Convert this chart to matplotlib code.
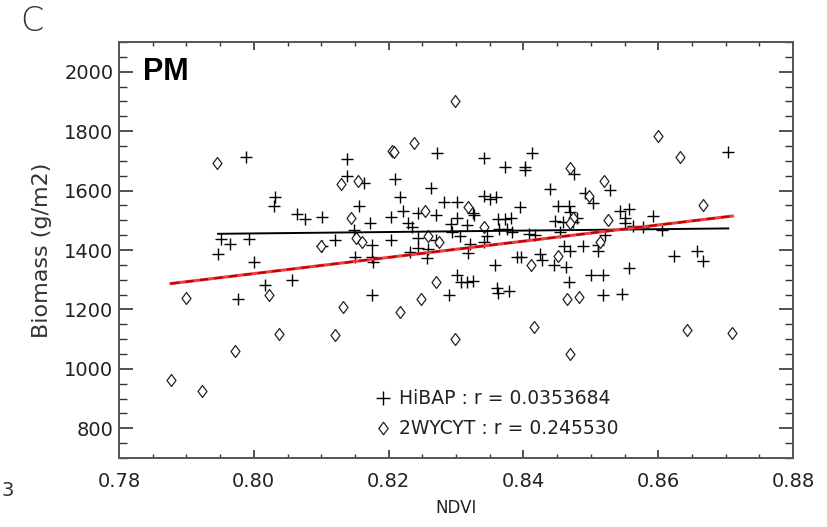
import matplotlib
matplotlib.use("Agg")
import matplotlib.pyplot as plt
from matplotlib.path import Path
from matplotlib.ticker import MultipleLocator
import numpy as np

# HiBAP (+) : NDVI vs biomass
hibap_ndvi = [0.7988, 0.8032, 0.8030, 0.8064, 0.8076, 0.8101, 0.7952, 0.7964, 0.7993, 0.7947,
              0.8000, 0.8120, 0.8138, 0.8139, 0.8164, 0.8156, 0.8173, 0.8148, 0.8203, 0.8210,
              0.8217, 0.8221, 0.8229, 0.8235, 0.8203, 0.8176, 0.8150, 0.8176, 0.8177, 0.8232,
              0.8243, 0.8243, 0.8244, 0.8259, 0.8257, 0.8263, 0.8272, 0.8270, 0.8270, 0.8282,
              0.8302, 0.8302, 0.8292, 0.8294, 0.8306, 0.8316, 0.8325, 0.8321, 0.8318, 0.8342,
              0.8413, 0.8373, 0.8402, 0.8403, 0.8440, 0.8475, 0.8491, 0.8503, 0.8529, 0.8341,
              0.8350, 0.8360, 0.8395, 0.8327, 0.8451, 0.8467, 0.8469, 0.8480, 0.8544, 0.8557,
              0.8362, 0.8373, 0.8382, 0.8364, 0.8376, 0.8383, 0.8447, 0.8458, 0.8474, 0.8550,
              0.8550, 0.8346, 0.8408, 0.8417, 0.8455, 0.8521, 0.8341, 0.8460, 0.8489, 0.8510,
              0.8511, 0.8469, 0.8563, 0.8577, 0.8606, 0.8593, 0.8704, 0.8623, 0.8658, 0.8666,
              0.8358, 0.8390, 0.8396, 0.8425, 0.8428, 0.8446, 0.8463, 0.8468, 0.8500, 0.8518,
              0.8557, 0.8325, 0.8301, 0.8307, 0.8316, 0.8361, 0.8362, 0.8378, 0.8518, 0.8546,
              0.8289, 0.8176, 0.7977, 0.8056, 0.8016, 0.8101]
hibap_biomass = [1712, 1580, 1549, 1521, 1504, 1511, 1437, 1420, 1437, 1385,
                 1358, 1434, 1707, 1650, 1627, 1548, 1490, 1467, 1511, 1639,
                 1580, 1532, 1490, 1478, 1432, 1417, 1376, 1378, 1361, 1393,
                 1524, 1439, 1407, 1403, 1373, 1608, 1725, 1517, 1435, 1563,
                 1563, 1507, 1487, 1462, 1448, 1483, 1523, 1420, 1391, 1711,
                 1726, 1680, 1678, 1668, 1604, 1657, 1591, 1559, 1601, 1583,
                 1573, 1580, 1544, 1518, 1547, 1547, 1528, 1507, 1531, 1539,
                 1504, 1503, 1508, 1471, 1471, 1462, 1496, 1493, 1493, 1508,
                 1491, 1446, 1454, 1452, 1460, 1449, 1428, 1412, 1412, 1417,
                 1396, 1395, 1481, 1477, 1468, 1514, 1730, 1379, 1398, 1362,
                 1350, 1378, 1378, 1385, 1367, 1351, 1342, 1292, 1315, 1315,
                 1339, 1297, 1317, 1294, 1294, 1271, 1256, 1261, 1248, 1251,
                 1250, 1250, 1236, 1299, 1282, 1413]

# 2WYCYT (diamonds)
wycyt_ndvi = [0.7945, 0.8205, 0.8208, 0.8237, 0.8299, 0.8129, 0.8154, 0.8144, 0.8100, 0.8152,
              0.8161, 0.8254, 0.8318, 0.8258, 0.8275, 0.8342, 0.8469, 0.8520, 0.8498, 0.8474,
              0.8525, 0.8469, 0.8513, 0.8451, 0.8411, 0.8599, 0.8632, 0.8666, 0.7900, 0.8022,
              0.8037, 0.7972, 0.7877, 0.7923, 0.8132, 0.8121, 0.8217, 0.8248, 0.8271, 0.8298,
              0.8465, 0.8482, 0.8416, 0.8469, 0.8642, 0.8710]
wycyt_biomass = [1692, 1734, 1729, 1760, 1900, 1622, 1632, 1507, 1413, 1439,
                 1428, 1530, 1546, 1447, 1427, 1477, 1677, 1632, 1582, 1509,
                 1501, 1492, 1427, 1380, 1348, 1785, 1713, 1552, 1238, 1249,
                 1116, 1059, 964, 924, 1207, 1113, 1190, 1235, 1293, 1102,
                 1234, 1243, 1140, 1051, 1132, 1122]

# regression lines (slope, intercept) and r values
hibap_fit = [239.0, 1264.6]
wycyt_fit = [2728.0, -861.8]
hibap_r = "0.0353684"
wycyt_r = "0.245530"

plt.rcParams['font.family'] = ['DejaVu Sans']

diamond = Path([(0, 1), (0.75, 0), (0, -1), (-0.75, 0), (0, 1)],
               [Path.MOVETO, Path.LINETO, Path.LINETO, Path.LINETO, Path.CLOSEPOLY])

fig = plt.figure(figsize=(8.27, 5.27), dpi=100)
ax = fig.add_axes([0.1439, 0.1309, 0.815, 0.7894])

ax.plot(hibap_ndvi, hibap_biomass, linestyle='none', marker='+', markersize=9,
        markeredgewidth=1.0, color='black')
ax.plot(wycyt_ndvi, wycyt_biomass, linestyle='none', marker=diamond, markersize=8.6,
        markeredgewidth=0.9, markerfacecolor='white', markeredgecolor='#222222')

xs = np.array([min(hibap_ndvi), max(hibap_ndvi)])
ax.plot(xs, hibap_fit[0] * xs + hibap_fit[1], color='black', lw=1.4, zorder=3)
xs = np.array([min(wycyt_ndvi), max(wycyt_ndvi)])
ax.plot(xs, wycyt_fit[0] * xs + wycyt_fit[1], color='#e84040', lw=2.2, zorder=3)
ax.plot(xs, wycyt_fit[0] * xs + wycyt_fit[1], color='#c00000', lw=1.5, zorder=3,
        dashes=(4, 3))

ax.set_xlim(0.78, 0.88)
ax.set_ylim(700, 2100)
ax.xaxis.set_minor_locator(MultipleLocator(0.005))
ax.yaxis.set_minor_locator(MultipleLocator(50))
ax.set_xticks([0.78, 0.80, 0.82, 0.84, 0.86, 0.88])
ax.set_xticklabels(['0.78', '0.80', '0.82', '0.84', '0.86', '0.88'])
ax.set_yticks([800, 1000, 1200, 1400, 1600, 1800, 2000])

ax.tick_params(axis='both', which='both', direction='in', top=True, right=True,
               labelsize=14, colors='#333333', labelcolor='#222222')
ax.tick_params(axis='x', which='major', length=6, width=1.2, pad=10)
ax.tick_params(axis='x', which='minor', length=3, width=1.0)
ax.tick_params(axis='y', which='major', length=10, width=1.2, pad=4)
ax.tick_params(axis='y', which='minor', length=5.5, width=1.0)
for s in ax.spines.values():
    s.set_linewidth(1.4)
    s.set_color('#555555')

ax.set_xlabel('NDVI', fontsize=12, color='#222222', labelpad=6)
ax.set_ylabel('Biomass (g/m2)', fontsize=16, color='#333333', labelpad=9)

ax.text(0.035, 0.965, 'PM', transform=ax.transAxes, fontsize=22, fontweight='bold',
        family=['Liberation Sans', 'DejaVu Sans'], va='top', ha='left')

# legend drawn by hand, like the original
ax.plot([0.392], [0.144], transform=ax.transAxes, marker='+', markersize=10,
        markeredgewidth=1.0, color='black', clip_on=False)
ax.plot([0.392], [0.072], transform=ax.transAxes, marker=diamond, markersize=9,
        markeredgewidth=0.9, markerfacecolor='white', markeredgecolor='#222222', clip_on=False)
ax.text(0.415, 0.144, f'HiBAP : r = {hibap_r}', transform=ax.transAxes,
        fontsize=13.5, va='center', ha='left', color='#222222')
ax.text(0.415, 0.072, f'2WYCYT : r = {wycyt_r}', transform=ax.transAxes,
        fontsize=13.5, va='center', ha='left', color='#222222')

fig.text(0.024, 0.96, 'C', fontsize=24, fontweight='light', va='center', ha='left', color='#333333')
fig.text(0.002, 0.07, '3', fontsize=14, va='center', ha='left', color='#333333')

fig.savefig('out.png', dpi=100)
